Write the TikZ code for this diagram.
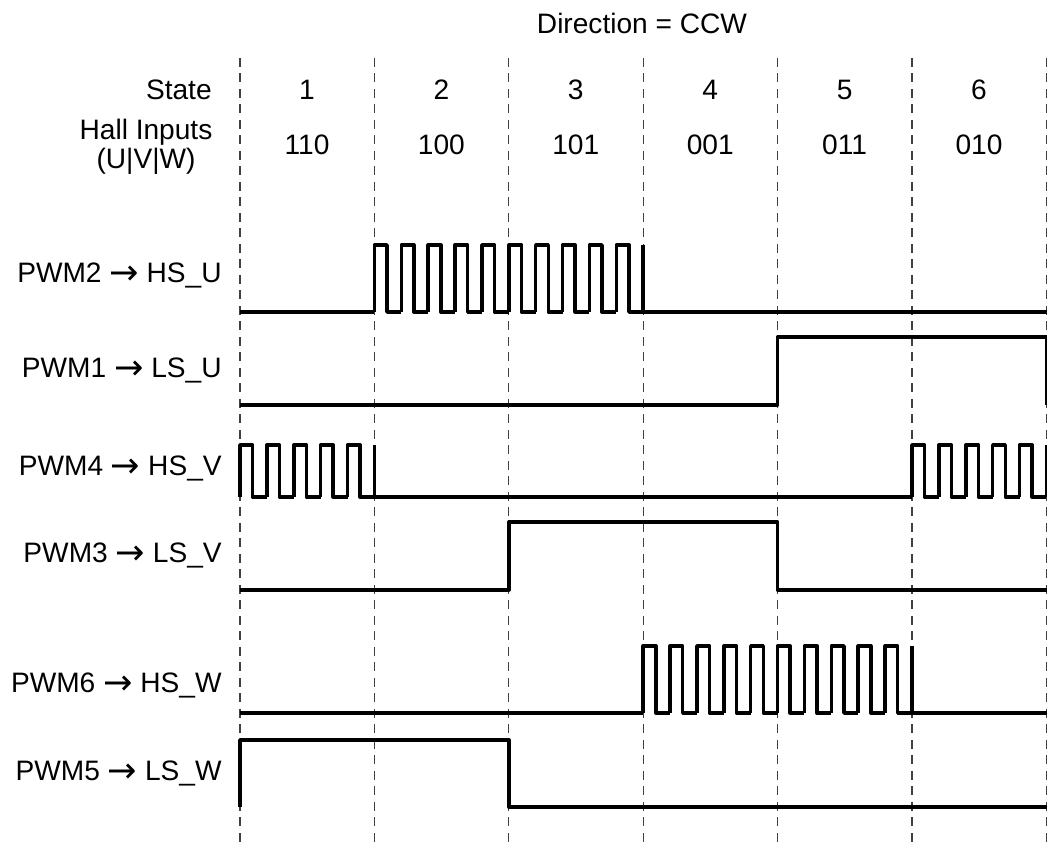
\documentclass[tikz,border=0pt]{standalone}
\usepackage{fontspec}
\setmainfont{Liberation Sans}
\newfontfamily\arrowfont{DejaVu Sans}
\newcommand{\PWMper}{26.88}
\newcommand{\PWMon}{12.6}
\newcommand{\tto}{\raisebox{-1.2pt}{\arrowfont\fontsize{20}{20}\selectfont →}}
% pulse train: start x, number of pulses, low y, high y
\newcommand{\pwmtrain}[4]{%
  \foreach \k in {1,...,#2}
    \draw[sig] ({#1+(\k-1)*\PWMper},#3) -- ++(0,{#4-#3}) -- ++(\PWMon,0)
      -- ++(0,{#3-#4}) -- ++({\PWMper-\PWMon},0);
  \draw[sig] ({#1+#2*\PWMper},#3) -- ++(0,{#4-#3});}

\begin{document}
\begin{tikzpicture}[x=0.02cm,y=-0.02cm,
    grid/.style={dash pattern=on 0.18cm off 0.13cm,gray!50!black,line width=0.65pt},
    sig/.style={line width=2pt,line join=round},
    txt/.style={inner sep=0pt,font=\fontsize{16}{16.5}\selectfont},
    lbl/.style={txt,anchor=east}]
    \useasboundingbox (0,0) rectangle (1047,847);
    \foreach \i in {0,...,6}
      \draw[grid] ({240+\i*134.4},58) -- ({240+\i*134.4},847);
    % header
    \node[txt] (dir) at (642,23) {Direction = CCW};
    \node[lbl] (state) at (212,90) {State};
    \node[txt,align=center] (hall) at (146,147) {Hall Inputs\\(U|V|W)};
    \foreach \s/\h [count=\c from 0] in {1/110,2/100,3/101,4/001,5/011,6/010} {
      \node[txt] (st\s) at ({307+\c*134.4},90) {\s};
      \node[txt] (hl\s) at ({307+\c*134.4},145) {\h};
    }
    % signal names
    \node[lbl] (hsu) at (222,275) {PWM2 \tto{} HS\_U};
    \node[lbl] (lsu) at (222,370) {PWM1 \tto{} LS\_U};
    \node[lbl] (hsv) at (222,468) {PWM4 \tto{} HS\_V};
    \node[lbl] (lsv) at (222,555) {PWM3 \tto{} LS\_V};
    \node[lbl] (hsw) at (222,685) {PWM6 \tto{} HS\_W};
    \node[lbl] (lsw) at (222,773) {PWM5 \tto{} LS\_W};
    % HS_U
    \draw[sig] (240,312) -- (374.4,312);
    \pwmtrain{374.4}{10}{312}{245}
    \draw[sig] (643.2,312) -- (1047,312);
    % LS_U
    \draw[sig] (240,405) -- (777.6,405) -- (777.6,337) -- (1046.4,337) -- (1046.4,405);
    % HS_V
    \pwmtrain{240}{5}{497}{445}
    \draw[sig] (374.4,497) -- (912,497);
    \pwmtrain{912}{5}{497}{445}
    % LS_V
    \draw[sig] (240,590) -- (508.8,590) -- (508.8,522) -- (777.6,522) -- (777.6,590) -- (1047,590);
    % HS_W
    \draw[sig] (240,713) -- (643.2,713);
    \pwmtrain{643.2}{10}{713}{646}
    \draw[sig] (912,713) -- (1047,713);
    % LS_W
    \draw[sig] (240,807) -- (240,740) -- (508.8,740) -- (508.8,807) -- (1047,807);
\end{tikzpicture}
\end{document}
